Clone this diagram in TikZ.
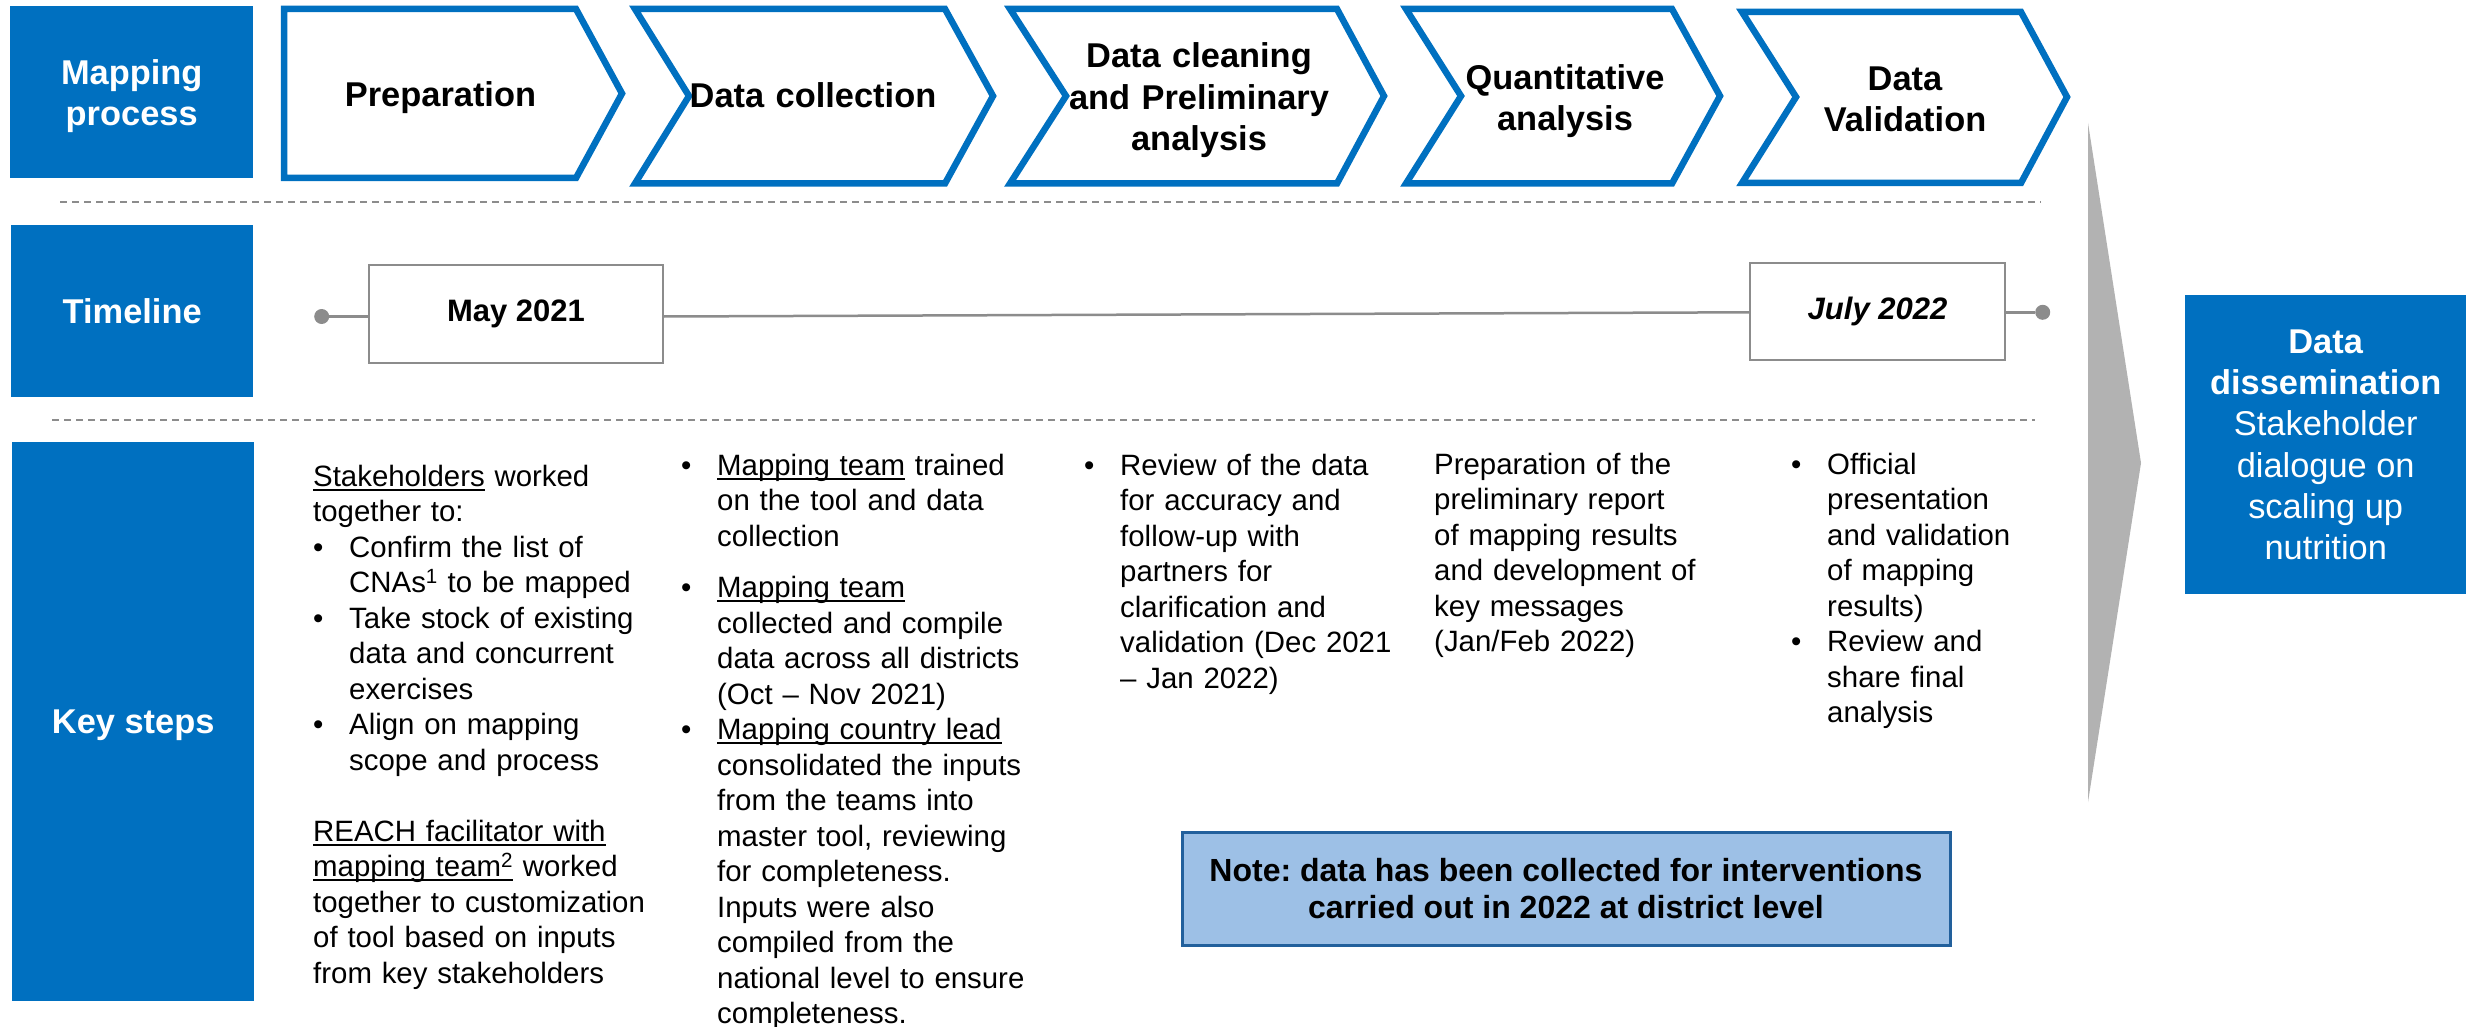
\documentclass[tikz,border=0pt]{standalone}
\usepackage{fontspec}
\setmainfont{Liberation Sans}
\frenchspacing
\definecolor{mblue}{HTML}{0070C0}
\definecolor{lgrey}{HTML}{B2B2B2}
\definecolor{dgrey}{HTML}{8C8C8C}
\definecolor{noteblue}{HTML}{9DC0E6}
\definecolor{noteborder}{HTML}{22609C}
\newcommand\bl{\makebox[36pt][l]{\textbullet}}
\newcommand\ind{\leavevmode\hspace*{36pt}}
\newcommand\ulx[1]{\leavevmode\setbox0\hbox{#1}\rlap{\rule[-4.5pt]{\wd0}{2pt}}\box0\relax}
\begin{document}
\begin{tikzpicture}[x=1pt,y=-1pt,
  header/.style={fill=mblue, text=white, font=\fontsize{34.4}{41}\selectfont\bfseries, align=center, inner sep=0pt, anchor=north west, text depth=0pt},
  dissem/.style={fill=mblue, text=white, font=\fontsize{34.4}{41.3}\selectfont, align=center, inner sep=0pt, anchor=north west},
  chev/.style={draw=mblue, line width=6.5pt, fill=white, line join=miter},
  chevtext/.style={font=\fontsize{34.4}{41.3}\selectfont\bfseries, align=center, text width=360pt, inner sep=0pt, anchor=base},
  body/.style={font=\fontsize{29.4}{35.5}\selectfont, align=left, text width=420pt, inner sep=0pt, anchor=base west},
  sep/.style={draw=dgrey, line width=2pt, dash pattern=on 7pt off 5pt},
  datebox/.style={draw=dgrey, line width=2pt, fill=white, inner sep=0pt, anchor=north west, font=\fontsize{31}{37}\selectfont\bfseries},
  tline/.style={draw=dgrey, line width=2.5pt},
  tdot/.style={circle, fill=dgrey, inner sep=0pt, minimum size=15pt}
]
\fill[white] (0,0) rectangle (2466,1027);
\useasboundingbox (0,0) rectangle (2466,1027);

% left headers
\node[header, minimum width=243pt, minimum height=172pt] (hmap) at (10,6) {Mapping\\process};
\node[header, minimum width=242pt, minimum height=172pt] (htime) at (11,225) {Timeline};
\node[header, minimum width=242pt, minimum height=559pt] (hkey) at (12,442) {Key steps};

% chevrons
\path[chev] (284,9) -- (576,9) -- (622,93.5) -- (576,178) -- (284,178) -- cycle;
\path[chev] (635,9) -- (945,9) -- (993,96) -- (945,183.5) -- (635,183.5) -- (689,96) -- cycle;
\path[chev] (1010,9) -- (1337,9) -- (1384,96) -- (1337,183.5) -- (1010,183.5) -- (1066,96) -- cycle;
\path[chev] (1406,9) -- (1672,9) -- (1720,96) -- (1672,183.5) -- (1406,183.5) -- (1461,96) -- cycle;
\path[chev] (1742,12) -- (2021,12) -- (2067,97) -- (2021,183) -- (1742,183) -- (1796,97) -- cycle;
\node[chevtext] (c1) at (440.5,106.5) {Preparation};
\node[chevtext] (c2) at (813,108) {Data collection};
\node[chevtext] (c3) at (1199,68) {Data cleaning\\and Preliminary\\analysis};
\node[chevtext] (c4) at (1565,89.6) {Quantitative\\analysis};
\node[chevtext] (c5) at (1905,90.6) {Data\\Validation};

% separators
\draw[sep] (60,202) -- (2041,202);
\draw[sep] (52,419.5) -- (2035,419.5);

% timeline
\node[datebox, minimum width=294pt, minimum height=98pt] (may) at (368,264) {May 2021};
\node[datebox, minimum width=255pt, minimum height=97pt] (jul) at (1749,262) {\itshape July 2022};
\node[tdot] (dl) at (321.7,316.5) {};
\node[tdot] (dr) at (2042.7,312.3) {};
\draw[tline] (dl) -- (dl -| may.west);
\draw[tline] (may.east |- dl) -- (jul.west |- dr);
\draw[tline] (jul.east |- dr) -- (dr);

% grey arrow
\fill[lgrey] (2088,123) -- (2141,463) -- (2088,802) -- cycle;

% dissemination
\node[dissem, minimum width=281pt, minimum height=299pt] (dis) at (2185,295) {\textbf{Data}\\\textbf{dissemination}\\Stakeholder\\dialogue on\\scaling up\\nutrition};

% key step columns
\node[body] (k1) at (313,486) {\ulx{Stakeholders} worked\\
together to:\\
\bl Confirm the list of\\
\ind CNAs\textsuperscript{1} to be mapped\\
\bl Take stock of existing\\
\ind data and concurrent\\
\ind exercises\\
\bl Align on mapping\\
\ind scope and process\\[35.5pt]
\ulx{REACH facilitator with}\\
\ulx{mapping team\textsuperscript{2}} worked\\
together to customization\\
of tool based on inputs\\
from key stakeholders};

\node[body] (k2) at (681,475) {\bl \ulx{Mapping team} trained\\
\ind on the tool and data\\
\ind collection\\[16pt]
\bl \ulx{Mapping team}\\
\ind collected and compile\\
\ind data across all districts\\
\ind (Oct \textendash{} Nov 2021)\\
\bl \ulx{Mapping country lead}\\
\ind consolidated the inputs\\
\ind from the teams into\\
\ind master tool, reviewing\\
\ind for completeness.\\
\ind Inputs were also\\
\ind compiled from the\\
\ind national level to ensure\\
\ind completeness.};

\node[body] (k3) at (1084,475) {\bl Review of the data\\
\ind for accuracy and\\
\ind follow-up with\\
\ind partners for\\
\ind clarification and\\
\ind validation (Dec 2021\\
\ind \textendash{} Jan 2022)};

\node[body] (k4) at (1434,474) {Preparation of the\\
preliminary report\\
of mapping results\\
and development of\\
key messages\\
(Jan/Feb 2022)};

\node[body] (k5) at (1791,474) {\bl Official\\
\ind presentation\\
\ind and validation\\
\ind of mapping\\
\ind results)\\
\bl Review and\\
\ind share final\\
\ind analysis};

% note
\node[draw=noteborder, line width=3pt, fill=noteblue, minimum width=768pt, minimum height=113pt, font=\fontsize{32}{37.6}\selectfont\bfseries, align=center, inner sep=0pt] (note) at (1566,888.5) {Note: data has been collected for interventions\\carried out in 2022 at district level};
\end{tikzpicture}
\end{document}
